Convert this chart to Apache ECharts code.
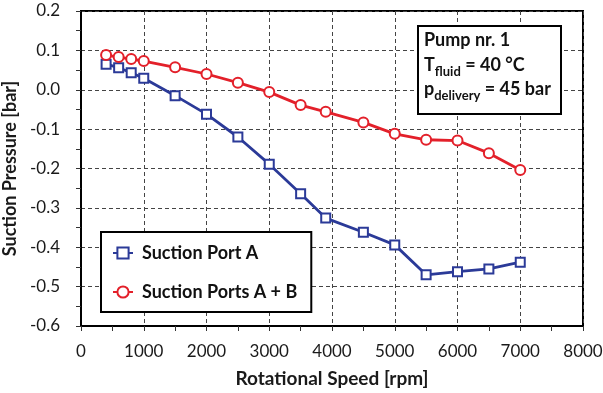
<!DOCTYPE html>
<html>
<head>
<meta charset="utf-8">
<script src="https://cdn.jsdelivr.net/npm/echarts@6/dist/echarts.min.js"></script>
<style>html,body{margin:0;padding:0;background:#fff}#c{width:603px;height:393px}</style>
</head>
<body>
<div id="c"></div>
<script>
const speedA = [400, 600, 800, 1000, 1500, 2000, 2500, 3000, 3500, 3900, 4500, 5000, 5500, 6000, 6500, 7000];
const portA = [0.065, 0.056, 0.043, 0.029, -0.015, -0.062, -0.120, -0.189, -0.264, -0.326, -0.362, -0.394, -0.470, -0.462, -0.455, -0.438];
const speedAB = [400, 600, 800, 1000, 1500, 2000, 2500, 3000, 3500, 3900, 4500, 5000, 5500, 6000, 6500, 7000];
const portsAB = [0.088, 0.083, 0.078, 0.073, 0.057, 0.040, 0.018, -0.006, -0.039, -0.056, -0.083, -0.112, -0.127, -0.129, -0.161, -0.204];
const seriesNames = ['Suction Port A', 'Suction Ports A + B'];
const xTitle = 'Rotational Speed [rpm]';
const yTitle = 'Suction Pressure [bar]';

const FONT = 'Lato';
const chart = echarts.init(document.getElementById('c'));
const axisCommon = {
  axisLine: { show: true, onZero: false, lineStyle: { color: '#000', width: 2 } },
  axisTick: { show: true, length: 5, lineStyle: { color: '#333', width: 1 } },
  minorTick: { show: true, splitNumber: 2, length: 5, lineStyle: { color: '#333', width: 1 } },
  splitLine: { show: true, lineStyle: { color: '#444', width: 1, type: [4, 3] } },
  axisLabel: { color: '#1a1a1a', fontFamily: FONT, fontSize: 17 },
  nameTextStyle: { color: '#1a1a1a', fontFamily: FONT, fontSize: 19, fontWeight: 'bold' }
};
chart.setOption({
  animation: false,
  grid: { left: 81, right: 20, top: 11, bottom: 67, containLabel: false, outerBoundsMode: 'none',
          show: true, borderColor: '#000', borderWidth: 2 },
  xAxis: Object.assign({}, axisCommon, {
    type: 'value', min: 0, max: 8000, interval: 1000,
    name: xTitle, nameLocation: 'middle', nameGap: 43,
    axisLabel: Object.assign({}, axisCommon.axisLabel, { margin: 17, formatter: v => String(v) })
  }),
  yAxis: Object.assign({}, axisCommon, {
    type: 'value', min: -0.6, max: 0.2, interval: 0.1,
    name: yTitle, nameLocation: 'middle', nameGap: 56,
    nameTextStyle: Object.assign({}, axisCommon.nameTextStyle, { fontSize: 18 }),
    axisLabel: Object.assign({}, axisCommon.axisLabel, { margin: 21, formatter: v => (Math.abs(v) < 1e-9 ? 0 : v).toFixed(1) })
  }),
  legend: {
    orient: 'vertical', left: 101, top: 232,
    backgroundColor: '#fff', borderColor: '#000', borderWidth: 2,
    padding: [12, 14, 11, 11], itemWidth: 20, itemHeight: 14, itemGap: 21,
    textStyle: { fontFamily: FONT, fontSize: 18, lineHeight: 14, fontWeight: 'bold', color: '#111', padding: [0, 0, 0, 4] },
    data: seriesNames
  },
  series: [
    {
      name: seriesNames[0], type: 'line',
      data: speedA.map((x, i) => [x, portA[i]]),
      symbol: 'rect', symbolSize: 9,
      lineStyle: { color: '#2B3A98', width: 2.8 },
      itemStyle: { color: '#fff', borderColor: '#2B3A98', borderWidth: 2 },
      z: 3
    },
    {
      name: seriesNames[1], type: 'line',
      data: speedAB.map((x, i) => [x, portsAB[i]]),
      symbol: 'circle', symbolSize: 10,
      lineStyle: { color: '#E3202A', width: 2.8 },
      itemStyle: { color: '#fff', borderColor: '#E3202A', borderWidth: 2 },
      z: 4
    }
  ],
  graphic: [
    { type: 'rect', left: 417, top: 25, shape: { width: 143, height: 88 },
      style: { fill: '#fff', stroke: '#000', lineWidth: 2 }, z: 100 },
    { type: 'text', left: 424, top: 31, z: 101,
      style: { text: 'Pump nr. 1', fontFamily: FONT, fontSize: 18, fontWeight: 'bold', fill: '#111' } },
    { type: 'text', left: 424, top: 52, z: 101,
      style: { text: 'T{s|fluid} = 40 °C', fontFamily: FONT, fontSize: 18, fontWeight: 'bold', fill: '#111', lineHeight: 26,
        rich: { s: { fontFamily: FONT, fontSize: 13, fontWeight: 'bold', fill: '#111', lineHeight: 14, verticalAlign: 'bottom' } } } },
    { type: 'text', left: 424, top: 76, z: 101,
      style: { text: 'p{s|delivery} = 45 bar', fontFamily: FONT, fontSize: 18, fontWeight: 'bold', fill: '#111', lineHeight: 26,
        rich: { s: { fontFamily: FONT, fontSize: 13, fontWeight: 'bold', fill: '#111', lineHeight: 14, verticalAlign: 'bottom' } } } }
  ]
});
</script>
</body>
</html>
